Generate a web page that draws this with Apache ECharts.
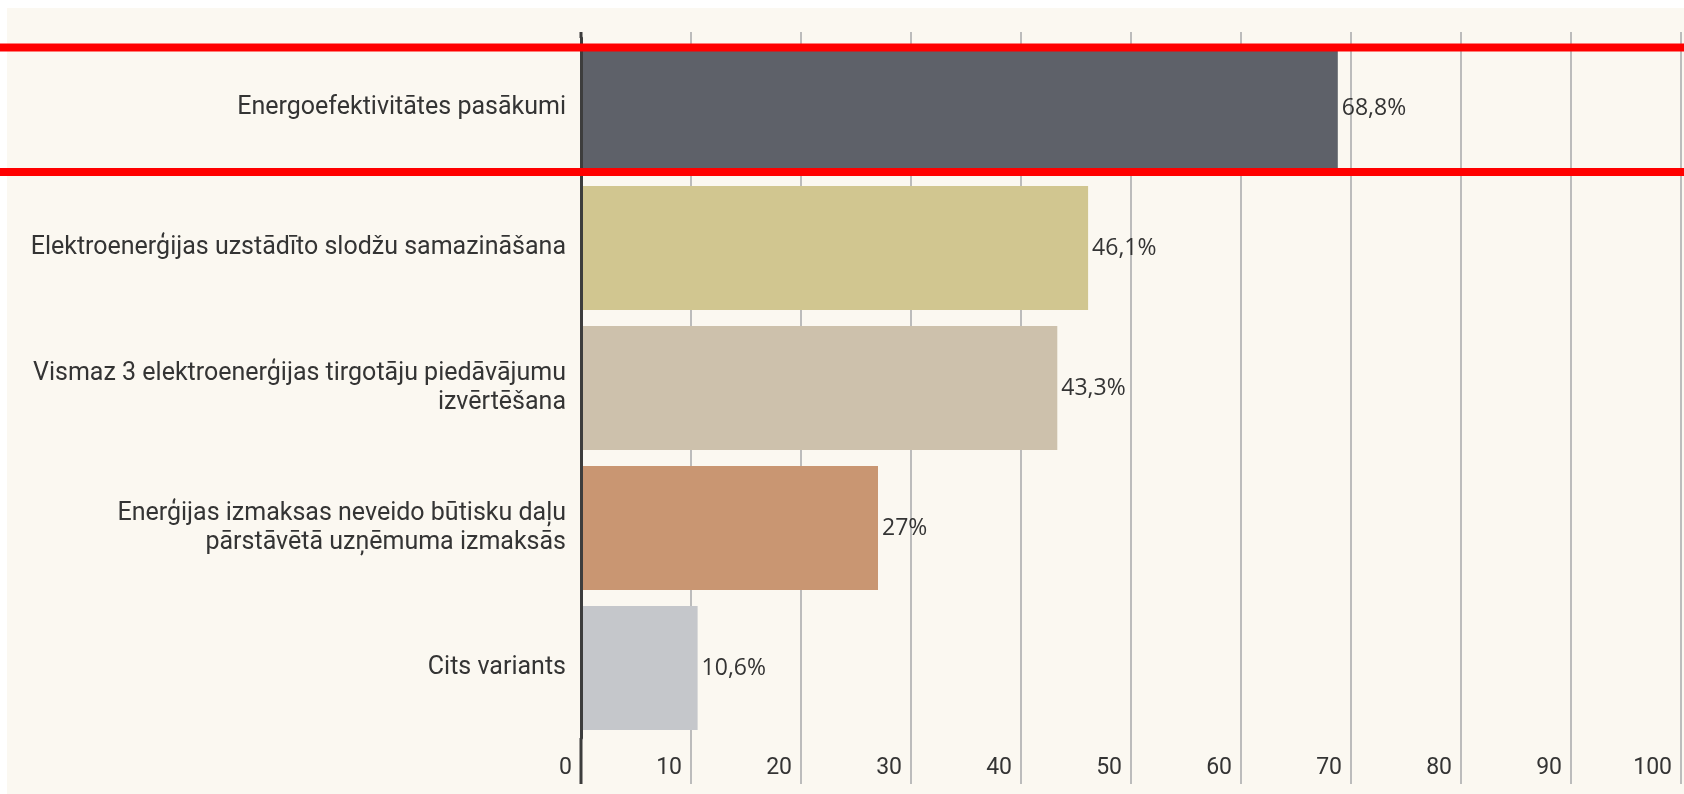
<!DOCTYPE html>
<html>
<head>
<meta charset="utf-8">
<title>Energoefektivitātes pasākumi</title>
<script src="https://cdn.jsdelivr.net/npm/echarts@6/dist/echarts.min.js"></script>
<style>
    html, body { margin: 0; padding: 0; background: #ffffff; }
    #chart { width: 1684px; height: 794px; }
</style>
</head>
<body>
<div id="chart"></div>
<script>
// dati (kategorijas ar rindu pārnesumiem kā attēlā)
var categories = [
    'Energoefektivitātes pasākumi',
    'Elektroenerģijas uzstādīto slodžu samazināšana',
    'Vismaz 3 elektroenerģijas tirgotāju piedāvājumu\nizvērtēšana',
    'Enerģijas izmaksas neveido būtisku daļu\npārstāvētā uzņēmuma izmaksās',
    'Cits variants'
];
var values = [68.8, 46.1, 43.3, 27, 10.6];
var barColors = ['#5e6169', '#d1c690', '#cdc1ac', '#c99672', '#c5c7cb'];

var gridLeft = 581, gridTop = 38, gridBottom = 56;
var gridColor = '#bcbcbc';
var axisColor = '#3d3d3d';
var textColor = '#343434';

var myChart = echarts.init(document.getElementById('chart'));

var option = {
    backgroundColor: '#ffffff',
    animation: false,
    grid: {
        left: gridLeft,
        right: 2,
        top: gridTop,
        bottom: gridBottom,
        containLabel: false
    },
    xAxis: [{
        type: 'value',
        position: 'bottom',
        min: 0,
        max: 100,
        interval: 10,
        axisLine: { show: false },
        axisTick: { show: true, inside: false, length: 46, lineStyle: { color: gridColor, width: 2 } },
        splitLine: { show: true, lineStyle: { color: gridColor, width: 2 } },
        axisLabel: {
            align: 'right',
            padding: [0, 9, 0, 0],
            margin: 17,
            fontFamily: 'Roboto',
            fontSize: 23,
            lineHeight: 26,
            color: textColor
        }
    }, {
        // tikai īsās līnijas virs grafika
        type: 'value',
        position: 'top',
        min: 0,
        max: 100,
        interval: 10,
        axisLine: { show: false },
        axisTick: { show: true, length: 6, lineStyle: { color: gridColor, width: 2 } },
        splitLine: { show: false },
        axisLabel: { show: false }
    }],
    yAxis: {
        type: 'category',
        inverse: true,
        data: categories,
        z: 3,
        axisLine: { show: true, lineStyle: { color: axisColor, width: 3 } },
        axisTick: { show: false },
        splitLine: { show: false },
        axisLabel: {
            margin: 15,
            fontFamily: 'Roboto',
            fontSize: 25,
            lineHeight: 29,
            color: textColor,
            align: 'right'
        }
    },
    series: [{
        type: 'bar',
        xAxisIndex: 0,
        barWidth: 124,
        data: values.map(function (v, i) {
            return { value: v, itemStyle: { color: barColors[i] } };
        }),
        label: {
            show: true,
            position: 'right',
            distance: 4,
            fontFamily: 'Open Sans',
            fontSize: 23,
            color: textColor,
            formatter: function (p) {
                return String(p.value).replace('.', ',') + '%';
            }
        }
    }]
};
myChart.setOption(option);

// fons, ass pagarinājums un sarkanās līnijas
var x0 = myChart.convertToPixel({ xAxisIndex: 0 }, 0);
var yc = myChart.convertToPixel({ yAxisIndex: 0 }, 0);
var gridEnd = 794 - gridBottom;

myChart.setOption({
    graphic: [
        { type: 'rect', z: -100, silent: true,
          shape: { x: 7, y: 8, width: 1684 - 7, height: 794 - 8 },
          style: { fill: '#fbf8f1' } },
        { type: 'line', z: 50, silent: true,
          shape: { x1: x0, y1: gridTop - 6, x2: x0, y2: gridTop },
          style: { stroke: axisColor, lineWidth: 3 } },
        { type: 'line', z: 50, silent: true,
          shape: { x1: x0, y1: gridEnd, x2: x0, y2: gridEnd + 46 },
          style: { stroke: axisColor, lineWidth: 3 } },
        { type: 'line', z: 100, silent: true,
          shape: { x1: 0, y1: yc - 60.5, x2: 1684, y2: yc - 60.5 },
          style: { stroke: '#ff0000', lineWidth: 8 } },
        { type: 'line', z: 100, silent: true,
          shape: { x1: 0, y1: yc + 64, x2: 1684, y2: yc + 64 },
          style: { stroke: '#ff0000', lineWidth: 8 } }
    ]
});
</script>
</body>
</html>
